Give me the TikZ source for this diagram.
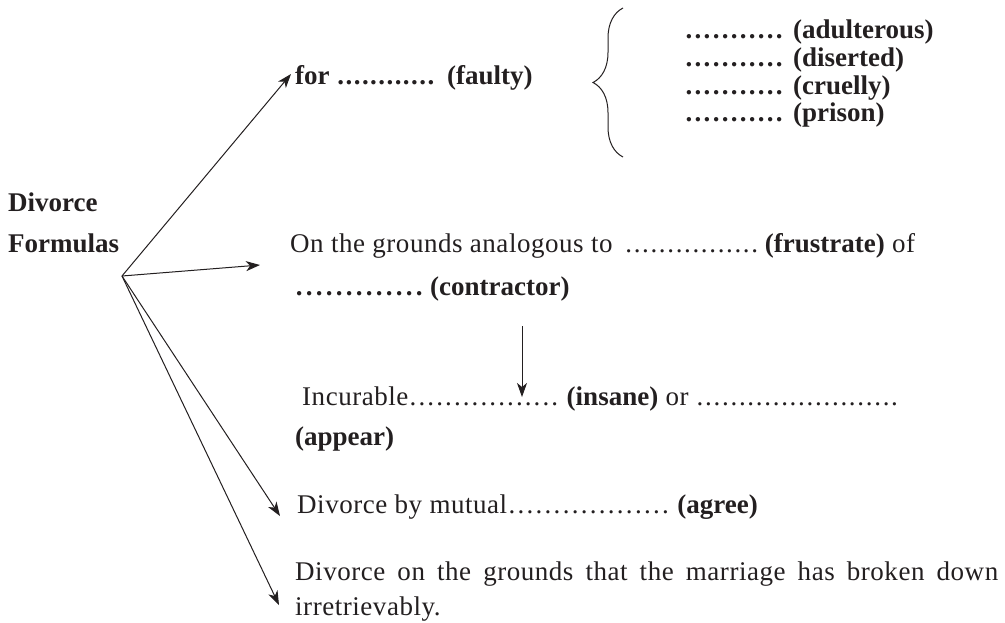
\documentclass[tikz,border=0pt]{standalone}
\usepackage{fontspec}
\setmainfont{Liberation Serif}[LetterSpace=2, BoldFeatures={LetterSpace=0}]
\usetikzlibrary{arrows.meta,calc,decorations.pathreplacing}
\definecolor{ink}{HTML}{231F20}
\newcommand\dotrow[2]{\hbox to #1{\xleaders\hbox to #2{\hss.\hss}\hfill}}
\tikzset{
  txt/.style={inner sep=0pt, anchor=base west, text=ink, font=\fontsize{27}{35}\selectfont},
  btxt/.style={txt, font=\fontsize{27}{35}\selectfont\bfseries},
  arr/.style={draw=ink, line width=1pt, -{Stealth[length=14pt,width=10pt,inset=4pt]}},
  bracestyle/.style={draw=ink, line width=1pt, decorate, decoration={brace, amplitude=30pt, aspect=0.5}}
}
\begin{document}
\begin{tikzpicture}[x=1pt,y=-1pt]
\path[use as bounding box] (0,0) rectangle (1005,622);

% root
\node[btxt, align=left, font=\fontsize{27}{41}\selectfont\bfseries] (div) at (8,252) {Divorce\\Formulas};
\coordinate (o) at (122,276);

% branch 1
\node[btxt] (forn) at (295,84) {for\hspace{7pt}\dotrow{98.4pt}{8.2pt}\hspace{12pt}(faulty)};
\draw[bracestyle] (623,157) -- (623,8);
\node[btxt] (l1) at (684,38) {\dotrow{100pt}{8.36pt}\hspace{9pt}(adulterous)};
\node[btxt] (l2) at (684,66) {\dotrow{100pt}{8.36pt}\hspace{9pt}(diserted)};
\node[btxt] (l3) at (684,94) {\dotrow{100pt}{8.36pt}\hspace{9pt}(cruelly)};
\node[btxt] (l4) at (684,121) {\dotrow{100pt}{8.36pt}\hspace{9pt}(prison)};

% branch 2
\node[txt] (on) at (290,252) {On the grounds analogous to\hspace{12pt}\dotrow{134.4pt}{8.4pt}\hspace{6pt}\textbf{(frustrate)} of};
\node[btxt] (contr) at (294,295) {\dotrow{130pt}{10pt}\hspace{6pt}(contractor)};
\node[txt] (incur) at (302,405) {Incurable\dotrow{151pt}{8.4pt} \textbf{(insane)} or \dotrow{203pt}{8.45pt}};
\node[btxt] (appear) at (295,445) {(appear)};
\coordinate (vtop) at (522,326);
\draw[arr] (vtop) -- ($(incur.base west)+(220,-8)$);

% branch 3
\node[txt] (mutual) at (297,513) {Divorce by mutual\dotrow{163pt}{8.6pt} \textbf{(agree)}};

% branch 4
\node[txt, text width=703pt, align=justify] (last) at (295,580)
  {\hyphenpenalty=10000\tolerance=10000 Divorce on the grounds that the marriage has broken down\linebreak irretrievably.};

% arrows from root
\draw[arr] (o) -- ($(forn.base west)+(-4,-10)$);
\draw[arr] (o) -- ($(on.base west)+(-30,13)$);
\draw[arr] (o) -- ($(mutual.base west)+(-17,3)$);
\draw[arr] (o) -- ($(last.base west)+(-16,25)$);
\end{tikzpicture}
\end{document}
